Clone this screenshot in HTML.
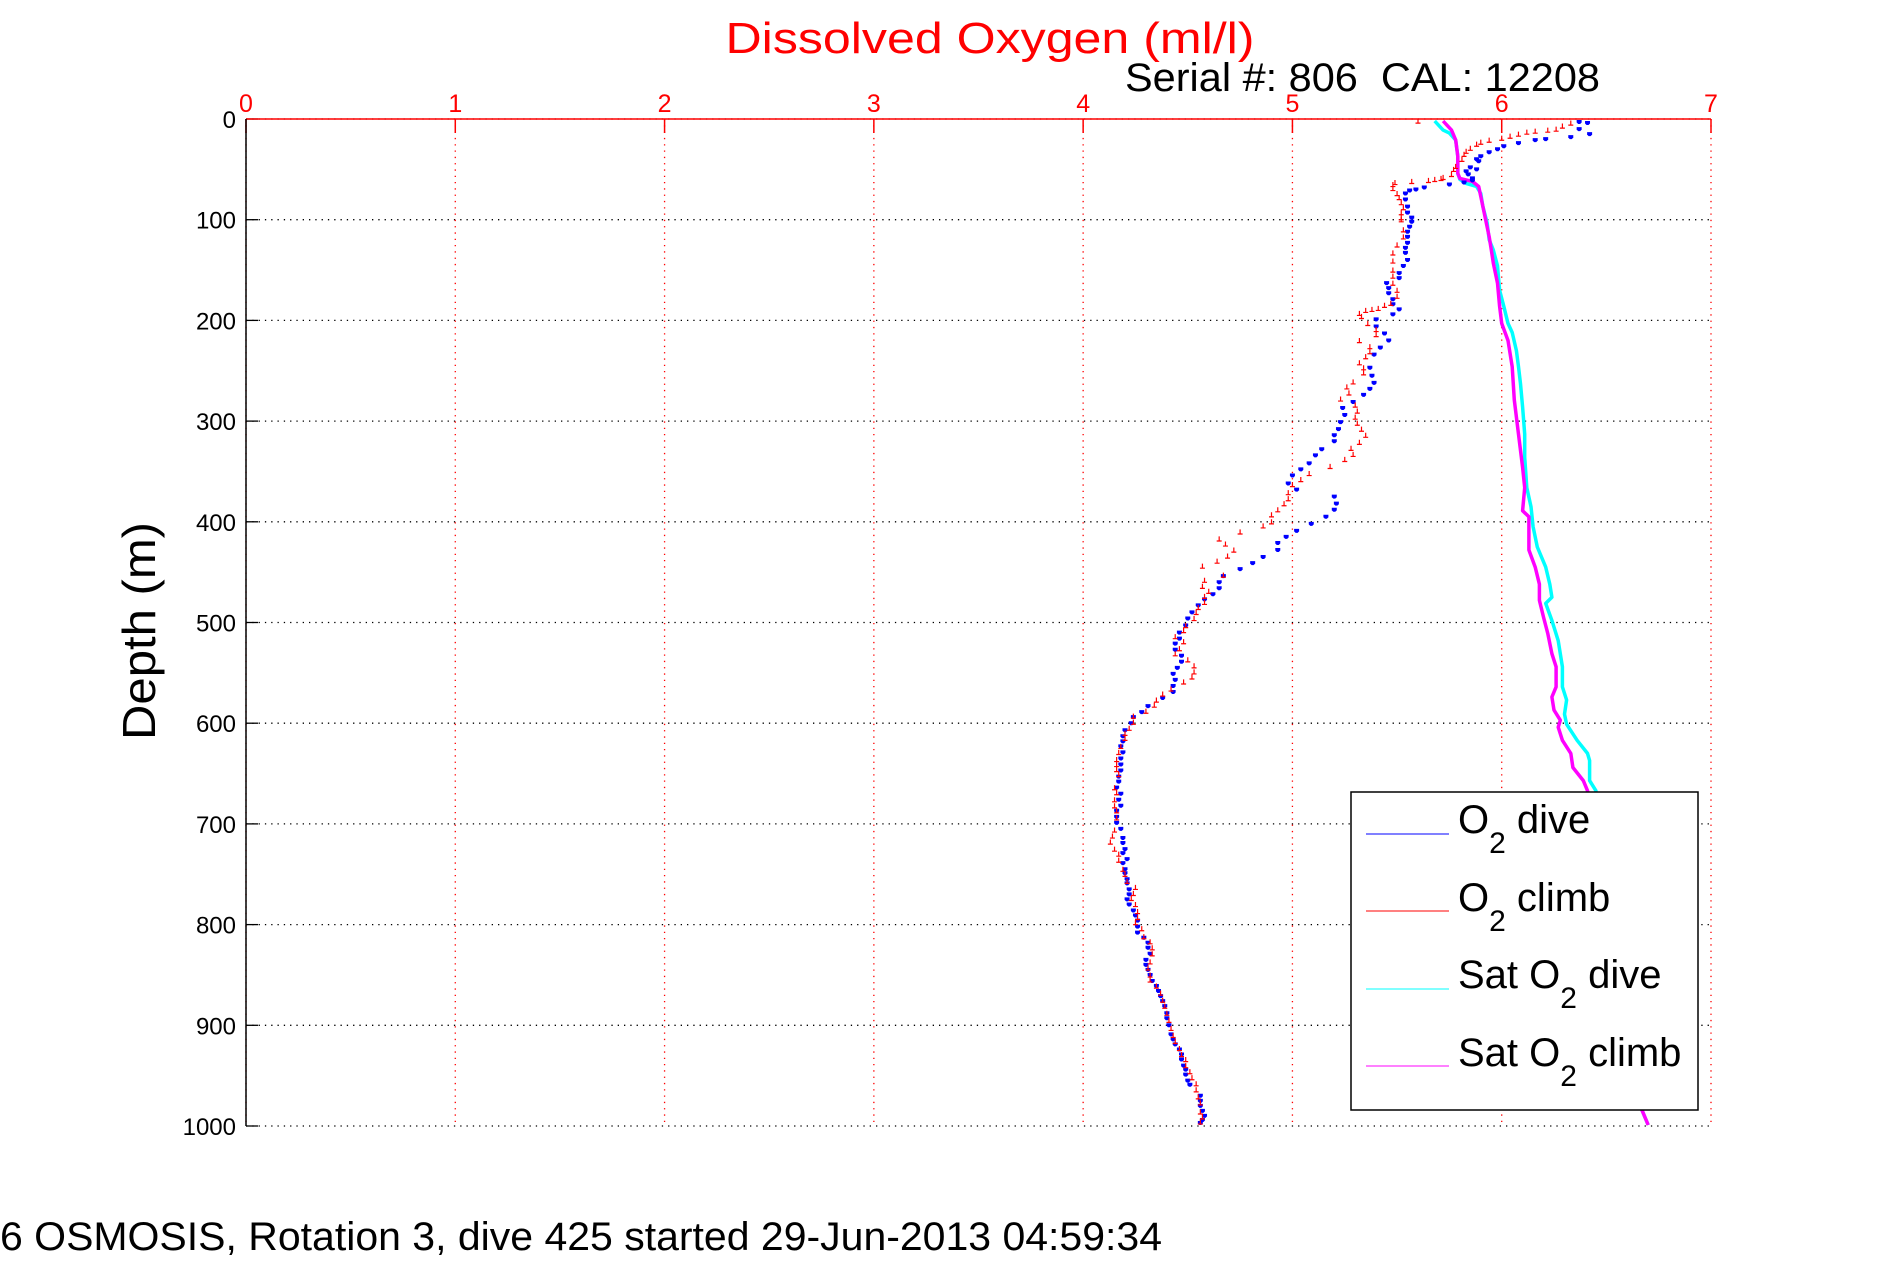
<!DOCTYPE html>
<html><head><meta charset="utf-8"><style>
html,body{margin:0;padding:0;background:#fff;}
svg{display:block;font-family:"Liberation Sans",sans-serif;}
</style></head><body>
<svg id="chart" width="1891" height="1262" viewBox="0 0 1891 1262" xmlns="http://www.w3.org/2000/svg">
<rect width="1891" height="1262" fill="#fff"/>
<text x="990" y="53" fill="#ff0000" font-size="44" text-anchor="middle" textLength="529" lengthAdjust="spacingAndGlyphs">Dissolved Oxygen (ml/l)</text>
<text x="1125" y="91" fill="#000" font-size="40" style="white-space:pre" xml:space="preserve" textLength="475" lengthAdjust="spacingAndGlyphs">Serial #: 806  CAL: 12208</text>
<text transform="translate(155,631) rotate(-90)" fill="#000" font-size="46" text-anchor="middle" textLength="218" lengthAdjust="spacingAndGlyphs">Depth (m)</text>
<text x="0" y="1250" fill="#000" font-size="40" textLength="1162" lengthAdjust="spacingAndGlyphs">6 OSMOSIS, Rotation 3, dive 425 started 29-Jun-2013 04:59:34</text>
<g id="grid"></g>
<g id="axes"></g>
<g id="series"></g>
<g id="legend">
<rect x="1351" y="792" width="347" height="318" fill="#fff" stroke="#000" stroke-width="1.5"/>
<g><line x1="1366" y1="834" x2="1449" y2="834" stroke="#0000ff" stroke-width="1"/><text x="1458" y="833" font-size="40">O<tspan dy="20" font-size="30">2</tspan><tspan dy="-20"> dive</tspan></text></g>
<g><line x1="1366" y1="911" x2="1449" y2="911" stroke="#ff0000" stroke-width="1"/><text x="1458" y="911" font-size="40">O<tspan dy="20" font-size="30">2</tspan><tspan dy="-20"> climb</tspan></text></g>
<g><line x1="1366" y1="989" x2="1449" y2="989" stroke="#00ffff" stroke-width="1"/><text x="1458" y="988" font-size="40">Sat O<tspan dy="20" font-size="30">2</tspan><tspan dy="-20"> dive</tspan></text></g>
<g><line x1="1366" y1="1066" x2="1449" y2="1066" stroke="#ff00ff" stroke-width="1"/><text x="1458" y="1066" font-size="40">Sat O<tspan dy="20" font-size="30">2</tspan><tspan dy="-20"> climb</tspan></text></g>
</g>
</svg>
<script>
const xTicks = [0,1,2,3,4,5,6,7];
const yTicks = [0,100,200,300,400,500,600,700,800,900,1000];
const diveDepth = [3,4,10,15,18,20,21,24,27,30,33,37,40,42,48,50,52,55,59,61,63,65,68,70,71,74,80,87,93,98,102,107,112,117,123,128,133,140,146,153,158,163,168,173,179,184,189,194,199,206,213,220,227,234,247,255,262,268,274,281,287,294,301,308,314,320,328,334,342,348,354,362,368,375,382,388,395,402,409,415,421,428,435,441,447,454,460,466,472,477,483,490,496,503,510,516,521,527,533,539,545,551,557,563,569,575,583,589,594,600,607,613,618,623,629,635,641,647,653,658,664,670,676,682,687,693,699,705,714,719,725,729,735,739,745,749,755,759,765,770,775,780,786,791,796,802,808,813,818,823,829,835,840,845,850,856,861,866,871,876,881,888,893,900,909,914,919,924,929,934,940,944,949,955,959,970,975,980,985,990,994,997];
const diveO2 = [6.37,6.41,6.37,6.42,6.33,6.21,6.16,6.08,6.01,5.98,5.94,5.90,5.88,5.89,5.85,5.88,5.83,5.84,5.86,5.86,5.82,5.75,5.63,5.59,5.56,5.54,5.54,5.55,5.55,5.57,5.57,5.56,5.55,5.55,5.55,5.54,5.54,5.55,5.53,5.51,5.51,5.45,5.46,5.46,5.48,5.48,5.51,5.48,5.40,5.40,5.44,5.46,5.42,5.39,5.37,5.38,5.39,5.37,5.34,5.29,5.24,5.25,5.23,5.22,5.20,5.20,5.14,5.11,5.08,5.04,5.00,4.98,5.02,5.20,5.21,5.20,5.16,5.09,5.02,4.97,4.93,4.93,4.86,4.81,4.75,4.67,4.65,4.65,4.62,4.58,4.55,4.52,4.50,4.49,4.46,4.46,4.44,4.44,4.47,4.47,4.45,4.43,4.44,4.43,4.43,4.38,4.31,4.28,4.24,4.23,4.20,4.19,4.19,4.18,4.19,4.18,4.18,4.18,4.17,4.17,4.16,4.18,4.17,4.18,4.16,4.16,4.16,4.18,4.19,4.19,4.20,4.19,4.21,4.19,4.20,4.20,4.21,4.21,4.22,4.22,4.21,4.22,4.24,4.25,4.26,4.26,4.26,4.29,4.31,4.31,4.32,4.30,4.30,4.31,4.32,4.33,4.35,4.36,4.37,4.38,4.39,4.40,4.40,4.41,4.42,4.43,4.44,4.46,4.47,4.47,4.48,4.49,4.49,4.50,4.51,4.56,4.56,4.56,4.57,4.58,4.57,4.56];
const climbDepth = [2,4,7,10,11,12,13,15,17,19,21,23,25,29,32,35,40,47,50,55,58,59,60,61,62,63,65,69,74,78,83,88,93,98,100,110,117,125,133,141,150,156,163,170,176,183,185,188,189,190,193,196,203,209,214,220,226,231,236,242,247,252,261,266,272,278,284,290,296,302,308,314,321,327,333,338,345,352,358,363,371,377,382,388,393,400,404,410,417,422,428,434,439,444,453,458,464,469,474,480,485,490,496,503,508,514,519,526,531,537,543,549,554,559,566,571,577,582,588,593,599,605,610,615,623,629,636,641,646,651,664,669,676,682,687,694,706,712,718,725,730,736,745,750,757,763,769,774,780,787,793,798,804,812,817,823,829,837,843,850,855,861,868,875,881,888,895,903,910,916,923,929,934,940,946,952,958,964,971,977,986,991,996];
const climbO2 = [5.60,6.33,6.29,6.26,6.22,6.16,6.12,6.08,6.04,6.00,5.94,5.90,5.88,5.85,5.83,5.82,5.81,5.78,5.77,5.76,5.72,5.71,5.68,5.65,5.57,5.49,5.48,5.48,5.50,5.51,5.52,5.53,5.52,5.52,5.52,5.53,5.53,5.50,5.48,5.48,5.48,5.48,5.48,5.50,5.50,5.47,5.44,5.41,5.38,5.35,5.32,5.33,5.36,5.40,5.40,5.32,5.37,5.37,5.35,5.32,5.34,5.34,5.29,5.26,5.27,5.23,5.30,5.31,5.30,5.31,5.33,5.35,5.32,5.28,5.29,5.25,5.18,5.08,5.04,5.00,4.98,4.98,4.96,4.93,4.90,4.90,4.86,4.75,4.65,4.68,4.72,4.69,4.64,4.57,4.67,4.58,4.57,4.60,4.58,4.58,4.55,4.54,4.53,4.49,4.48,4.44,4.48,4.46,4.44,4.50,4.53,4.53,4.52,4.48,4.42,4.38,4.35,4.34,4.30,4.24,4.24,4.22,4.20,4.20,4.18,4.17,4.16,4.16,4.16,4.17,4.15,4.16,4.15,4.15,4.16,4.16,4.15,4.14,4.13,4.15,4.17,4.17,4.19,4.20,4.21,4.25,4.24,4.23,4.25,4.26,4.26,4.25,4.28,4.29,4.32,4.33,4.33,4.32,4.31,4.32,4.32,4.35,4.37,4.38,4.39,4.40,4.41,4.42,4.43,4.44,4.46,4.47,4.49,4.49,4.51,4.52,4.54,4.54,4.55,4.56,4.56,4.57,4.56];
const satDiveDepth = [2,11,14,21,37,54,60,64,67,74,87,103,120,130,146,170,186,203,212,230,246,263,286,313,336,366,385,405,425,445,462,475,481,498,518,544,564,577,591,601,617,630,637,657,667,700,800,900,984,999];
const satDiveO2 = [5.68,5.72,5.75,5.78,5.79,5.79,5.80,5.83,5.88,5.90,5.91,5.93,5.94,5.96,5.98,5.99,6.01,6.03,6.05,6.07,6.08,6.09,6.10,6.11,6.11,6.12,6.14,6.15,6.17,6.21,6.23,6.24,6.21,6.24,6.27,6.29,6.29,6.31,6.30,6.31,6.36,6.41,6.42,6.42,6.45,6.47,6.53,6.60,6.67,6.70];
const satClimbDepth = [2,11,21,37,54,59,62,67,77,97,117,130,143,163,186,203,220,246,279,313,346,366,389,395,412,428,445,462,478,495,511,531,544,564,574,587,597,604,617,630,644,657,667,700,800,900,984,999];
const satClimbO2 = [5.72,5.76,5.78,5.79,5.79,5.80,5.86,5.89,5.90,5.92,5.94,5.95,5.96,5.98,5.99,6.00,6.03,6.05,6.06,6.08,6.10,6.11,6.10,6.13,6.13,6.13,6.16,6.18,6.18,6.20,6.22,6.24,6.26,6.26,6.24,6.25,6.28,6.27,6.29,6.33,6.34,6.39,6.41,6.45,6.52,6.60,6.67,6.70];

const NS = 'http://www.w3.org/2000/svg';
const L = 246, R = 1711, T = 119, B = 1126;
const xMin = 0, xMax = 7, yMin = 0, yMax = 1000;
function xScale(v){ return L + (v - xMin) / (xMax - xMin) * (R - L); }
function yScale(d){ return T + (d - yMin) / (yMax - yMin) * (B - T); }
function mk(tag, attrs, parent){
  const e = document.createElementNS(NS, tag);
  for (const k in attrs) e.setAttribute(k, attrs[k]);
  parent.appendChild(e);
  return e;
}
const grid = document.getElementById('grid');
const axes = document.getElementById('axes');
const series = document.getElementById('series');

yTicks.forEach(d => {
  const y = yScale(d);
  const gl = mk('line', {x1:L, y1:y, x2:R, y2:y, stroke:'#000', 'stroke-width':1.3, 'stroke-dasharray':'1.3 5'}, grid);
  
  
  const tk = mk('line', {x1:L, y1:y, x2:L+12, y2:y, stroke:'#000', 'stroke-width':1.3}, axes);
  
  
  const lb = mk('text', {x:L-10, y:y+9, 'font-size':24, 'text-anchor':'end', fill:'#000'}, axes);
  lb.textContent = d;
  
  
});
xTicks.forEach(v => {
  const x = xScale(v);
  const gl = mk('line', {x1:x, y1:T, x2:x, y2:B, stroke:'#ff0000', 'stroke-width':1.3, 'stroke-dasharray':'1.3 5'}, grid);
  
  
  const tk = mk('line', {x1:x, y1:T, x2:x, y2:T+14, stroke:'#ff0000', 'stroke-width':1.5}, axes);
  
  
  const lb = mk('text', {x:x, y:T-7, 'font-size':25, 'text-anchor':'middle', fill:'#ff0000'}, axes);
  lb.textContent = v;
  
  
});
const topAxis = mk('line', {x1:L, y1:T, x2:R, y2:T, stroke:'#ff0000', 'stroke-width':1.5}, axes);


const leftAxis = mk('line', {x1:L, y1:T, x2:L, y2:B, stroke:'#000', 'stroke-width':1.5}, axes);



function drawLine(depths, vals, color, name){
  const pts = depths.map((d,i) => xScale(vals[i]).toFixed(1) + ',' + yScale(d).toFixed(1)).join(' ');
  const pl = mk('polyline', {points:pts, fill:'none', stroke:color, 'stroke-width':3.5, 'stroke-linejoin':'round'}, series);
  
  
}
function drawDots(depths, vals, color, name, red){
  const g = mk('g', {fill:color}, series);
  
  
  depths.forEach((d,i) => {
    const x = xScale(vals[i]), y = yScale(d);
    let m;
    if (red) {
      m = mk('path', {d:`M${x-2.5},${y+1.5}h5v1.2h-5zM${x-0.6},${y-2.5}h1.2v4h-1.2z`}, g);
    } else {
      m = mk('path', {d:`M${x-2.5},${y-2}h5v2.5l-1.5,1.5h-2l-1.5,-1.5z`}, g);
    }
    
    
  });
}
drawLine(satDiveDepth, satDiveO2, '#00ffff', 'sat-o2-dive-line');
drawLine(satClimbDepth, satClimbO2, '#ff00ff', 'sat-o2-climb-line');
drawDots(diveDepth, diveO2, '#0000ff', 'o2-dive-points', false);
drawDots(climbDepth, climbO2, '#ff0000', 'o2-climb-points', true);
const svg = document.getElementById('chart');
svg.appendChild(document.getElementById('legend'));
</script>
</body></html>
